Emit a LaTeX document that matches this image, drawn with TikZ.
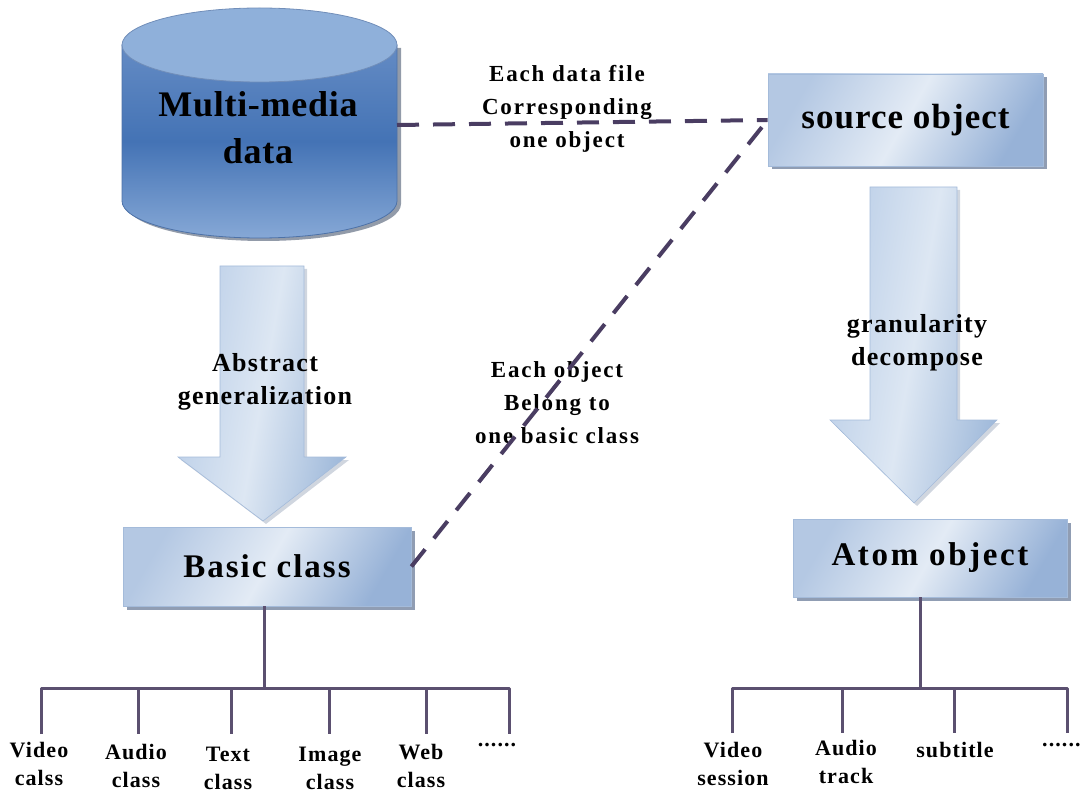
\documentclass[tikz,border=0pt]{standalone}
\usepackage{fontspec}
\setmainfont{Liberation Serif}
\usetikzlibrary{shadows}

\definecolor{boxlight}{HTML}{E3EBF5}
\definecolor{boxmid}{HTML}{B4C8E3}
\definecolor{boxdark}{HTML}{97B2D7}
\definecolor{boxedge}{HTML}{A4BBDA}
\definecolor{shadowc}{HTML}{7D8CA6}
\definecolor{cyltopc}{HTML}{648BC4}
\definecolor{cylmid}{HTML}{4473B5}
\definecolor{cylbot}{HTML}{86A8D6}
\definecolor{cylcap}{HTML}{8FB0DA}
\definecolor{cyledge}{HTML}{4D72A8}
\definecolor{dashc}{HTML}{4A3D62}
\definecolor{treec}{HTML}{5B5070}
\definecolor{arrowl}{HTML}{B9CDE7}
\definecolor{arrowm}{HTML}{DDE7F3}
\definecolor{arrowd}{HTML}{9FB9DA}

\begin{document}
\begin{tikzpicture}[x=1pt,y=-1pt,
  txt/.style={inner sep=0pt, align=center, text=black},
  cyltext/.style={txt, font=\fontsize{36}{47}\selectfont\bfseries\addfontfeatures{LetterSpace=2}},
  arrowtext/.style={txt, font=\fontsize{26}{33}\selectfont\bfseries\addfontfeatures{LetterSpace=5}},
  notetext/.style={txt, font=\fontsize{23}{33}\selectfont\bfseries\addfontfeatures{LetterSpace=8}},
  leaftext/.style={txt, font=\fontsize{22}{28}\selectfont\bfseries\addfontfeatures{LetterSpace=5}},
  bluebox/.style={draw=boxedge, line width=0.8pt, inner sep=0pt,
    left color=boxmid, right color=boxdark, middle color=boxlight, shading angle=60,
    drop shadow={shadow xshift=3.5pt, shadow yshift=-3.5pt, fill=shadowc, opacity=0.85}},
  arrowbody/.style={left color=arrowl, right color=arrowd, middle color=arrowm, shading angle=80,
    draw=boxedge, line width=0.6pt},
  arrowshadow/.style={fill=shadowc!60, opacity=0.6},
  dashline/.style={draw=dashc, line width=4pt, dash pattern=on 22pt off 14pt},
  treeline/.style={draw=treec, line width=3pt, line join=round},
]
\useasboundingbox (0,0) rectangle (1081,794);

% ---------- database cylinder ----------
\fill[shadowc!80!black, opacity=0.7] (126,48) -- (126,204)
  arc[start angle=180, end angle=0, x radius=137.5, y radius=37] -- (401,48) -- cycle;
\shade[top color=cyltopc, bottom color=cylbot, middle color=cylmid, draw=cyledge, line width=0.8pt]
  (122,45) -- (122,201)
  arc[start angle=180, end angle=0, x radius=137.5, y radius=37] -- (397,45) -- cycle;
\filldraw[fill=cylcap, draw=cyledge!80, line width=0.8pt] (259.5,45) ellipse[x radius=137.5, y radius=37];
\node[cyltext] (mmdata) at (258,128) {Multi-media\\data};
\coordinate (mmright) at (397,125);

% ---------- block arrows ----------
\path[arrowshadow] (223,269) -- (307,269) -- (307,460) -- (349,460) -- (266,524) -- (181,460) -- (223,460) -- cycle;
\shade[arrowbody] (220,266) -- (304,266) -- (304,457) -- (346,457) -- (263,521) -- (178,457) -- (220,457) -- cycle;
\path[arrowshadow] (873,190) -- (960,190) -- (960,423) -- (1000,423) -- (917,506) -- (833,423) -- (873,423) -- cycle;
\shade[arrowbody] (870,187) -- (957,187) -- (957,420) -- (997,420) -- (914,503) -- (830,420) -- (870,420) -- cycle;
\node[arrowtext] (abstr) at (265,382) {Abstract\\generalization};
\node[arrowtext] (gran) at (917,343) {granularity\\decompose};

% ---------- boxes ----------
\node[bluebox, minimum width=275pt, minimum height=92pt,
  font=\fontsize{35}{38}\selectfont\bfseries\addfontfeatures{LetterSpace=3}]
  (src) at (905.5,120) {source object};
\node[bluebox, minimum width=288pt, minimum height=79pt,
  font=\fontsize{33}{36}\selectfont\bfseries\addfontfeatures{LetterSpace=6}]
  (basic) at (267,566.5) {Basic class};
\node[bluebox, minimum width=274pt, minimum height=78pt,
  font=\fontsize{33}{36}\selectfont\bfseries\addfontfeatures{LetterSpace=8}]
  (atom) at (930,558) {Atom object};

% ---------- notes on the dashed links ----------
\node[notetext] (note1) at (567,109) {Each data file\\Corresponding\\one object};
\node[notetext] (note2) at (557,403) {Each object\\Belong to\\one basic class};

% ---------- dashed links ----------
\draw[dashline] (mmright) -- (src.west);
\draw[dashline] (basic.east) -- (src.west);

% ---------- left tree ----------
\coordinate (lbus) at (264,688);
\coordinate (lv1) at (41,734);
\coordinate (lv2) at (138,734);
\coordinate (lv3) at (231,734);
\coordinate (lv4) at (329,734);
\coordinate (lv5) at (426,734);
\coordinate (lv6) at (509,734);
\draw[treeline] (lbus |- basic.south) -- (lbus);
\draw[treeline] (lv1) -- (lv1 |- lbus) -- (lv6 |- lbus) -- (lv6);
\foreach \c in {lv2,lv3,lv4,lv5} \draw[treeline] (\c |- lbus) -- (\c);

\node[leaftext] (videoc) at (39,764) {Video\\calss};
\node[leaftext] (audioc) at (136,766) {Audio\\class};
\node[leaftext] (textc) at (228,768) {Text\\class};
\node[leaftext] (imagec) at (330,768) {Image\\class};
\node[leaftext] (webc) at (421,766) {Web\\class};
\node[leaftext] (moreleft) at (497,745) {......};

% ---------- right tree ----------
\coordinate (rbus) at (920,688);
\coordinate (rv1) at (732,733);
\coordinate (rv2) at (842,733);
\coordinate (rv3) at (954,733);
\coordinate (rv4) at (1067,733);
\draw[treeline] (rbus |- atom.south) -- (rbus);
\draw[treeline] (rv1) -- (rv1 |- rbus) -- (rv4 |- rbus) -- (rv4);
\foreach \c in {rv2,rv3} \draw[treeline] (\c |- rbus) -- (\c);

\node[leaftext] (vsess) at (733,764) {Video\\session};
\node[leaftext] (atrack) at (846,762) {Audio\\track};
\node[leaftext] (subt) at (955,750) {subtitle};
\node[leaftext, anchor=west] (moreright) at (1042,745) {......};
\end{tikzpicture}
\end{document}
